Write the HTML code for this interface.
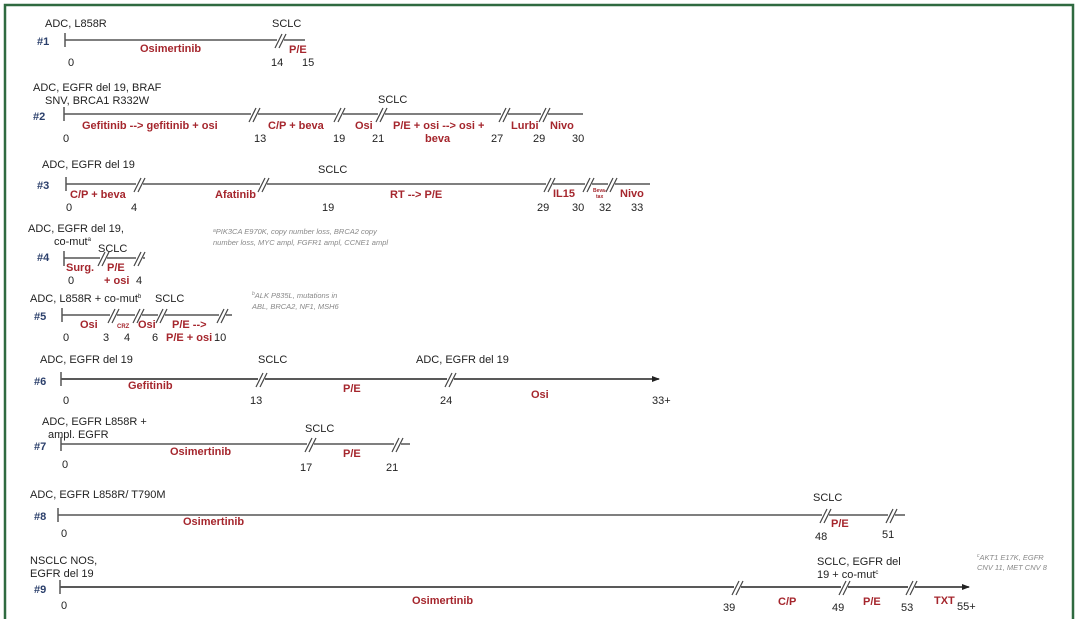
<!DOCTYPE html>
<html><head><meta charset="utf-8"><style>
html,body{margin:0;padding:0;background:#fff;}
svg{display:block;}
text{font-family:"Liberation Sans",sans-serif;font-size:11px;fill:#222;}
.r{fill:#a5262d;font-weight:bold;}
.n{fill:#2b3f6b;font-weight:bold;}
.f{fill:#888;font-style:italic;font-size:7.5px;}
.ln{stroke:#555;stroke-width:1.5;fill:none;}
.bk{stroke:#444;stroke-width:1.2;}
</style></head><body>
<svg width="1080" height="619" viewBox="0 0 1080 619" xmlns="http://www.w3.org/2000/svg">
<defs>
<g id="b"><rect x="-4" y="-3" width="7" height="6" fill="#fff"/><line class="bk" x1="-6" y1="7" x2="1" y2="-7"/><line class="bk" x1="-2" y1="7" x2="5" y2="-7"/></g>
<marker id="ar" markerWidth="8" markerHeight="8" refX="7" refY="4" orient="auto" markerUnits="userSpaceOnUse"><path d="M0,1 L8,4 L0,7 z" fill="#222"/></marker>
</defs>
<rect width="1080" height="619" fill="#fff"/>
<path d="M5,619 V5 H1073 V619" fill="none" stroke="#2f6a40" stroke-width="2.5"/>

<!-- #1 -->
<text x="45" y="27">ADC, L858R</text><text x="272" y="27">SCLC</text>
<text class="n" x="37" y="45">#1</text>
<line class="ln" x1="65" y1="40" x2="305" y2="40"/><line class="ln" x1="65" y1="33" x2="65" y2="47"/>
<use href="#b" x="281" y="41"/>
<text class="r" x="140" y="52">Osimertinib</text><text class="r" x="289" y="53">P/E</text>
<text x="68" y="66">0</text><text x="271" y="66">14</text><text x="302" y="66">15</text>

<!-- #2 -->
<text x="33" y="91">ADC, EGFR del 19, BRAF</text><text x="45" y="104">SNV, BRCA1 R332W</text>
<text class="n" x="33" y="120">#2</text>
<line class="ln" x1="64" y1="114" x2="583" y2="114"/><line class="ln" x1="64" y1="107" x2="64" y2="121"/>
<use href="#b" x="255" y="115"/><use href="#b" x="340" y="115"/><use href="#b" x="382" y="115"/><use href="#b" x="505" y="115"/><use href="#b" x="545" y="115"/>
<text x="378" y="103">SCLC</text>
<text class="r" x="82" y="129">Gefitinib --&gt; gefitinib + osi</text>
<text class="r" x="268" y="129">C/P + beva</text><text class="r" x="355" y="129">Osi</text>
<text class="r" x="393" y="129">P/E + osi --&gt; osi +</text><text class="r" x="425" y="142">beva</text>
<text class="r" x="511" y="129">Lurbi</text><text class="r" x="550" y="129">Nivo</text>
<text x="63" y="142">0</text><text x="254" y="142">13</text><text x="333" y="142">19</text><text x="372" y="142">21</text><text x="491" y="142">27</text><text x="533" y="142">29</text><text x="572" y="142">30</text>

<!-- #3 -->
<text x="42" y="168">ADC, EGFR del 19</text><text x="318" y="173">SCLC</text>
<text class="n" x="37" y="189">#3</text>
<line class="ln" x1="66" y1="184" x2="650" y2="184"/><line class="ln" x1="66" y1="177" x2="66" y2="191"/>
<use href="#b" x="140" y="185"/><use href="#b" x="264" y="185"/><use href="#b" x="550" y="185"/><use href="#b" x="589" y="185"/><use href="#b" x="612" y="185"/>
<text class="r" x="70" y="198">C/P + beva</text><text class="r" x="215" y="198">Afatinib</text><text class="r" x="390" y="198">RT --&gt; P/E</text>
<text class="r" x="553" y="197">IL15</text><text class="r" x="593" y="192" style="font-size:5px">Beva-</text><text class="r" x="596" y="198" style="font-size:5px">tax</text>
<text class="r" x="620" y="197">Nivo</text>
<text x="66" y="211">0</text><text x="131" y="211">4</text><text x="322" y="211">19</text><text x="537" y="211">29</text><text x="572" y="211">30</text><text x="599" y="211">32</text><text x="631" y="211">33</text>

<!-- #4 -->
<text x="28" y="232">ADC, EGFR del 19,</text><text x="54" y="245">co-mut<tspan font-size="6" dy="-4">a</tspan></text>
<text x="98" y="252">SCLC</text>
<text class="n" x="37" y="261">#4</text>
<line class="ln" x1="64" y1="258" x2="145" y2="258"/><line class="ln" x1="64" y1="251" x2="64" y2="266"/>
<use href="#b" x="104" y="259"/><use href="#b" x="140" y="259"/>
<text class="r" x="66" y="271">Surg.</text><text class="r" x="107" y="271">P/E</text><text class="r" x="104" y="284">+ osi</text>
<text x="68" y="284">0</text><text x="136" y="284">4</text>
<text class="f" x="213" y="234"><tspan font-size="5" dy="-2">a</tspan><tspan dy="2">PIK3CA E970K, copy number loss, BRCA2 copy</tspan></text>
<text class="f" x="213" y="245">number loss, MYC ampl, FGFR1 ampl, CCNE1 ampl</text>

<!-- #5 -->
<text x="30" y="302">ADC, L858R + co-mut<tspan font-size="6" dy="-4">b</tspan></text><text x="155" y="302">SCLC</text>
<text class="n" x="34" y="320">#5</text>
<line class="ln" x1="62" y1="315" x2="232" y2="315"/><line class="ln" x1="62" y1="308" x2="62" y2="322"/>
<use href="#b" x="114" y="316"/><use href="#b" x="139" y="316"/><use href="#b" x="162" y="316"/><use href="#b" x="223" y="316"/>
<text class="r" x="80" y="328">Osi</text><text class="r" x="117" y="328" style="font-size:6px">CRZ</text><text class="r" x="138" y="328">Osi</text>
<text class="r" x="172" y="328">P/E --&gt;</text><text class="r" x="166" y="341">P/E + osi</text>
<text x="63" y="341">0</text><text x="103" y="341">3</text><text x="124" y="341">4</text><text x="152" y="341">6</text><text x="214" y="341">10</text>
<text class="f" x="252" y="298"><tspan font-size="5" dy="-3">b</tspan><tspan dy="3">ALK P835L, mutations in</tspan></text>
<text class="f" x="252" y="309">ABL, BRCA2, NF1, MSH6</text>

<!-- #6 -->
<text x="40" y="363">ADC, EGFR del 19</text><text x="258" y="363">SCLC</text><text x="416" y="363">ADC, EGFR del 19</text>
<text class="n" x="34" y="385">#6</text>
<line class="ln" x1="61" y1="379" x2="659" y2="379" style="stroke:#222" marker-end="url(#ar)"/><line class="ln" x1="61" y1="372" x2="61" y2="386"/>
<use href="#b" x="262" y="380"/><use href="#b" x="451" y="380"/>
<text class="r" x="128" y="389">Gefitinib</text><text class="r" x="343" y="392">P/E</text><text class="r" x="531" y="398">Osi</text>
<text x="63" y="404">0</text><text x="250" y="404">13</text><text x="440" y="404">24</text><text x="652" y="404">33+</text>

<!-- #7 -->
<text x="42" y="425">ADC, EGFR L858R +</text><text x="48" y="438">ampl. EGFR</text><text x="305" y="432">SCLC</text>
<text class="n" x="34" y="450">#7</text>
<line class="ln" x1="61" y1="444" x2="410" y2="444"/><line class="ln" x1="61" y1="437" x2="61" y2="451"/>
<use href="#b" x="311" y="445"/><use href="#b" x="398" y="445"/>
<text class="r" x="170" y="455">Osimertinib</text><text class="r" x="343" y="457">P/E</text>
<text x="62" y="468">0</text><text x="300" y="471">17</text><text x="386" y="471">21</text>

<!-- #8 -->
<text x="30" y="498">ADC, EGFR L858R/ T790M</text><text x="813" y="501">SCLC</text>
<text class="n" x="34" y="520">#8</text>
<line class="ln" x1="58" y1="515" x2="905" y2="515"/><line class="ln" x1="58" y1="508" x2="58" y2="522"/>
<use href="#b" x="826" y="516"/><use href="#b" x="892" y="516"/>
<text class="r" x="183" y="525">Osimertinib</text><text class="r" x="831" y="527">P/E</text>
<text x="61" y="537">0</text><text x="815" y="540">48</text><text x="882" y="538">51</text>

<!-- #9 -->
<text x="30" y="564">NSCLC NOS,</text><text x="30" y="577">EGFR del 19</text>
<text x="817" y="565">SCLC, EGFR del</text><text x="817" y="578">19 + co-mut<tspan font-size="6" dy="-4">c</tspan></text>
<text class="n" x="34" y="593">#9</text>
<line class="ln" x1="60" y1="587" x2="969" y2="587" style="stroke:#222" marker-end="url(#ar)"/><line class="ln" x1="60" y1="580" x2="60" y2="594"/>
<use href="#b" x="738" y="588"/><use href="#b" x="845" y="588"/><use href="#b" x="912" y="588"/>
<text class="r" x="412" y="604">Osimertinib</text><text class="r" x="778" y="605">C/P</text><text class="r" x="863" y="605">P/E</text><text class="r" x="934" y="604">TXT</text>
<text x="61" y="609">0</text><text x="723" y="611">39</text><text x="832" y="611">49</text><text x="901" y="611">53</text><text x="957" y="610">55+</text>
<text class="f" x="977" y="560"><tspan font-size="5" dy="-3">c</tspan><tspan dy="3">AKT1 E17K, EGFR</tspan></text>
<text class="f" x="977" y="570">CNV 11, MET CNV 8</text>
</svg>
</body></html>
